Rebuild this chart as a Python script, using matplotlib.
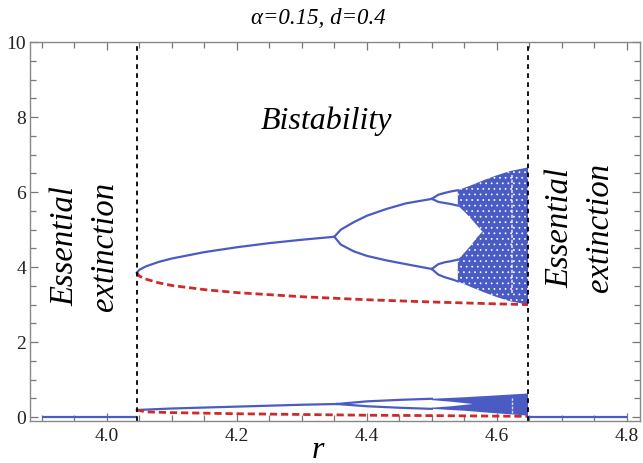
import matplotlib
matplotlib.use("Agg")
import matplotlib.pyplot as plt
from matplotlib.ticker import MultipleLocator

# ---------------- data ----------------
r_fold = 4.046          # saddle-node: onset of bistability
r_crisis = 4.648        # boundary crisis: end of bistability

# extinction state (x = 0)
ext_left_r = [3.90, 4.046]
ext_left_y = [0.0, 0.0]
ext_right_r = [4.648, 4.80]
ext_right_y = [0.0, 0.0]

# upper attractor: stable period-1 branch
p1_r = [4.046, 4.05, 4.06, 4.08, 4.10, 4.15, 4.20, 4.25, 4.30, 4.35]
p1_y = [3.85, 3.93, 4.02, 4.14, 4.23, 4.40, 4.53, 4.64, 4.73, 4.81]
# upper attractor: unstable branch (red dashed)
un_r = [4.046, 4.05, 4.06, 4.08, 4.10, 4.15, 4.20, 4.30, 4.40, 4.50, 4.60, 4.648]
un_y = [3.85, 3.76, 3.68, 3.58, 3.51, 3.40, 3.32, 3.21, 3.13, 3.07, 3.02, 3.00]
# period-2 branches
p2_r = [4.35, 4.36, 4.38, 4.40, 4.43, 4.46, 4.50]
p2_hi = [4.81, 5.00, 5.20, 5.37, 5.55, 5.70, 5.82]
p2_lo = [4.81, 4.60, 4.42, 4.30, 4.18, 4.08, 3.95]
# period-4 bubbles
p4_r = [4.50, 4.51, 4.52, 4.53, 4.54]
p4a_hi = [5.82, 5.93, 5.98, 6.02, 6.05]
p4a_lo = [5.82, 5.74, 5.71, 5.68, 5.64]
p4b_hi = [3.95, 4.08, 4.13, 4.16, 4.20]
p4b_lo = [3.95, 3.80, 3.73, 3.68, 3.62]
# chaotic band (upper attractor)
ch_r = [4.54, 4.56, 4.58, 4.60, 4.62, 4.648]
ch_top = [6.05, 6.18, 6.32, 6.45, 6.56, 6.66]
ch_bot = [3.62, 3.47, 3.33, 3.20, 3.09, 3.00]
gap_r = [4.535, 4.54, 4.55, 4.56, 4.57, 4.578]
gap_top = [5.66, 5.64, 5.48, 5.30, 5.10, 4.95]
gap_bot = [4.18, 4.20, 4.38, 4.58, 4.80, 4.95]

# lower attractor (near zero)
lp1_r = [4.046, 4.10, 4.20, 4.30, 4.354]
lp1_y = [0.19, 0.23, 0.28, 0.33, 0.35]
lun_r = [4.046, 4.06, 4.10, 4.20, 4.30, 4.40, 4.50, 4.648]
lun_y = [0.19, 0.14, 0.12, 0.09, 0.07, 0.05, 0.04, 0.02]
lp2_r = [4.354, 4.40, 4.45, 4.50]
lp2_hi = [0.35, 0.42, 0.46, 0.49]
lp2_lo = [0.35, 0.29, 0.25, 0.22]
lch_r = [4.50, 4.55, 4.60, 4.648]
lch_top = [0.49, 0.53, 0.58, 0.63]
lch_bot = [0.22, 0.17, 0.10, 0.04]
lgap_r = [4.495, 4.53, 4.563]
lgap_top = [0.46, 0.41, 0.35]
lgap_bot = [0.245, 0.29, 0.35]

window_r = 4.623        # periodic window (white streak)

# ---------------- styling ----------------
BLUE = "#4a5cc4"
RED = "#cf2a2a"
plt.rcParams["font.family"] = ["Liberation Serif", "DejaVu Serif"]
plt.rcParams["hatch.color"] = "white"
plt.rcParams["hatch.linewidth"] = 0.5

fig = plt.figure(figsize=(6.43, 4.63), dpi=100)
ax = fig.add_axes([0.047, 0.091, 0.948, 0.818])
ax.set_xlim(3.882, 4.82)
ax.set_ylim(-0.1, 10)

lw_b = 1.6
# extinction
ax.plot(ext_left_r, ext_left_y, color=BLUE, lw=lw_b, solid_capstyle="butt")
ax.plot(ext_right_r, ext_right_y, color=BLUE, lw=lw_b, solid_capstyle="butt")

# upper attractor
ax.plot(p1_r, p1_y, color=BLUE, lw=lw_b)
ax.plot(p2_r, p2_hi, color=BLUE, lw=lw_b)
ax.plot(p2_r, p2_lo, color=BLUE, lw=lw_b)
for hi, lo in ((p4a_hi, p4a_lo), (p4b_hi, p4b_lo)):
    ax.plot(p4_r, hi, color=BLUE, lw=lw_b)
    ax.plot(p4_r, lo, color=BLUE, lw=lw_b)
ax.fill_between(ch_r, ch_bot, ch_top, facecolor=BLUE, edgecolor="white",
                hatch="...", linewidth=0)
ax.fill_between(gap_r, gap_bot, gap_top, facecolor="white", linewidth=0)
ax.plot(un_r, un_y, color=RED, lw=2.0, dashes=(2.6, 1.4))

# lower attractor
ax.plot(lp1_r, lp1_y, color=BLUE, lw=lw_b)
ax.plot(lp2_r, lp2_hi, color=BLUE, lw=lw_b)
ax.plot(lp2_r, lp2_lo, color=BLUE, lw=lw_b)
ax.fill_between(lch_r, lch_bot, lch_top, facecolor=BLUE, linewidth=0)
ax.fill_between(lgap_r, lgap_bot, lgap_top, facecolor="white", linewidth=0)
ax.plot(lun_r, lun_y, color=RED, lw=2.0, dashes=(2.6, 1.4))

# periodic window streaks
ax.plot([window_r, window_r], [3.3, 6.45], color="white", lw=1.2, alpha=0.8,
        dashes=(2, 1))
ax.plot([window_r, window_r], [0.12, 0.5], color="white", lw=1.0, alpha=0.8,
        dashes=(2, 1))

# boundaries
for rv in (r_fold, r_crisis):
    ax.axvline(rv, color="black", lw=1.3, dashes=(2.6, 2.4))

# annotations
tkw = dict(fontsize=23.5, style="italic", rotation=90, ha="center", va="center")
ax.text(3.935, 4.55, "Essential", **tkw)
ax.text(3.997, 4.55, "extinction", **tkw)
ax.text(4.697, 5.05, "Essential", **tkw)
ax.text(4.758, 5.05, "extinction", **tkw)
ax.text(4.338, 7.9, "Bistability", fontsize=23, style="italic",
        ha="center", va="center")

fig.text(0.495, 0.96, "\u03b1=0.15, d=0.4", fontsize=16.5, style="italic",
         ha="center", va="center")
fig.text(0.494, 0.028, "r", fontsize=23, style="italic", ha="center",
         va="center")

# axes cosmetics
ax.xaxis.set_major_locator(MultipleLocator(0.2))
ax.xaxis.set_minor_locator(MultipleLocator(0.05))
ax.yaxis.set_major_locator(MultipleLocator(2))
ax.yaxis.set_minor_locator(MultipleLocator(0.5))
ax.xaxis.set_major_formatter(matplotlib.ticker.FormatStrFormatter("%.1f"))
ax.tick_params(which="both", direction="in", top=True, right=True,
               color="#777777", labelsize=14, labelcolor="#222222")
ax.tick_params(which="major", length=6, width=0.9)
ax.tick_params(which="minor", length=4, width=0.9)
ax.tick_params(axis="x", pad=5)
ax.tick_params(axis="y", pad=3)
for s in ax.spines.values():
    s.set_color("#888888")
    s.set_linewidth(1.0)

fig.savefig("out.png", dpi=100)
